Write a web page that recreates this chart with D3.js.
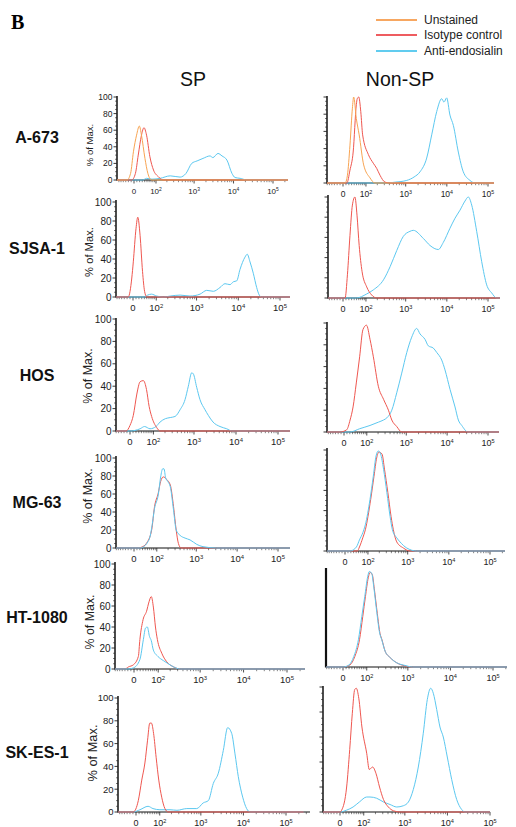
<!DOCTYPE html>
<html><head><meta charset="utf-8">
<script src="https://cdn.jsdelivr.net/npm/d3@7"></script>
<style>body{margin:0;background:#fff} svg{display:block}</style>
</head><body><svg id="c" width="516" height="827"></svg>
<script>
// ---------------- DATA ----------------
const rowLabels = ["A-673","SJSA-1","HOS","MG-63","HT-1080","SK-ES-1"];
const columnTitles = ["SP","Non-SP"];
const seriesNames = ["Unstained","Isotype control","Anti-endosialin"];
const yTickValues = [0,20,40,60,80,100];
const xTickValues = [0,100,1000,10000,100000];
const xTickExponents = ["","2","3","4","5"];

// each curve: [fluorescence intensity, % of max]
const a673_sp_unstained = [[-300,0],[-25,0],[-12,8],[-2,34],[9,54],[19,65],[27,54],[41,26],[54,8],[73,0],[260000,0]];
const a673_sp_isotype = [[-300,0],[-8,0],[5,8],[15,30],[27,54],[37,63],[48,54],[64,28],[84,12],[117,4],[160,0],[260000,0]];
const a673_sp_endo = [[-300,0],[32,0],[48,2],[75,1],[131,2],[245,5],[440,3.5],[624,8],[870,20],[1190,23],[1680,26],[2530,29],[3000,27],[4040,32],[5100,29],[6800,24],[9100,8],[10900,3],[14700,2],[22000,0],[260000,0]];
const a673_nsp_unstained = [[-300,0],[7,0],[15,9],[24,44],[33,87],[38,100],[49,75],[62,56],[86,21],[129,6],[174,0],[260000,0]];
const a673_nsp_isotype = [[-300,0],[13,0],[24,15],[36,36],[49,91],[53,98],[60,100],[70,83],[80,56],[117,33],[158,23],[193,17],[234,9],[312,1],[410,0],[260000,0]];
const a673_nsp_endo = [[-300,0],[346,0],[555,1],[1060,3],[1600,7],[2230,13],[3240,29],[4290,56],[5670,83],[7500,98],[8530,94],[9910,99],[11900,79],[14400,67],[19000,36],[25100,13],[36500,3],[48300,0],[260000,0]];

const sjsa_sp_isotype = [[-300,0],[-16,0],[-4,20],[1,37],[10,72],[16,84],[24,65],[33,27],[41,6],[50,0],[260000,0]];
const sjsa_sp_endo = [[-300,0],[40,0],[54,2],[72,3],[103,1],[154,0],[231,1],[401,2],[697,1],[1210,3],[1750,7],[2530,6],[3650,10],[4810,14],[6340,13],[7600,16],[9180,17],[11000,29],[14500,42],[16400,45],[19100,37],[22900,25],[27600,10],[31900,2],[36400,0],[260000,0]];
const sjsa_nsp_isotype = [[-300,0],[7,0],[15,23],[24,62],[33,92],[43,100],[52,82],[62,52],[77,26],[105,11],[143,3],[193,0],[260000,0]];
const sjsa_nsp_endo = [[-300,0],[49,0],[105,4],[158,8],[286,18],[416,31],[605,47],[875,61],[1270,66],[1530,67],[2680,59],[3900,52],[6200,48],[8200,55],[11900,69],[15800,79],[20900,87],[27600,96],[33200,100],[40200,92],[53100,66],[70300,36],[92900,13],[123000,5],[163000,0],[260000,0]];

const hos_sp_isotype = [[-300,0],[-13,0],[0,5],[11,14],[23,33],[35,44],[48,45],[62,37],[75,22],[89,13],[123,3],[150,0],[260000,0]];
const hos_sp_endo = [[-300,0],[0,0],[35,2],[53,4],[80,2],[118,4],[150,8],[204,11],[269,12],[353,13],[465,19],[611,28],[733,40],[883,52],[964,51],[1160,39],[1390,28],[1830,19],[2190,14],[2840,8],[4160,4],[6010,2],[8040,0],[260000,0]];
const hos_nsp_isotype = [[-300,0],[-14,0],[9,2],[21,11],[32,23],[45,45],[60,69],[77,94],[98,98],[123,85],[151,69],[203,42],[275,30],[364,20],[441,11],[584,5],[774,0],[260000,0]];
const hos_nsp_endo = [[-300,0],[21,0],[60,3],[123,6],[203,9],[275,11],[333,13],[441,20],[584,36],[774,54],[1030,73],[1360,87],[1800,95],[2170,90],[2880,85],[3470,79],[4590,77],[5560,73],[7370,66],[8870,57],[11800,39],[15600,23],[18800,11],[22800,6],[32400,0],[260000,0]];

const mg63_sp_isotype = [[-300,0],[15,0],[27,1],[45,5],[70,20],[86,46],[110,61],[128,74],[151,79],[185,76],[228,70],[275,46],[320,20],[364,5],[424,0],[260000,0]];
const mg63_sp_endo = [[-300,0],[21,0],[32,1],[52,7],[60,11],[70,22],[86,44],[110,59],[128,79],[145,88],[157,88],[173,78],[196,74],[228,68],[275,42],[320,20],[401,14],[531,11],[703,9],[1030,4],[1460,1.5],[3170,0],[260000,0]];
const mg63_nsp_isotype = [[-300,0],[45,0],[54,4],[70,13],[84,21],[119,51],[146,74],[171,92],[196,98],[234,96],[270,81],[327,58],[393,34],[447,21],[541,9],[782,3],[1140,0],[260000,0]];
const mg63_nsp_endo = [[-300,0],[17,0],[41,4],[54,11],[70,18],[84,26],[114,51],[140,74],[165,94],[189,99],[216,96],[256,81],[309,58],[372,34],[423,21],[541,13],[650,9],[946,3],[1660,0],[260000,0]];

const ht1080_sp_isotype = [[-300,0],[-30,0],[-18,2],[-2,4],[14,12],[19,28],[30,47],[43,55],[53,64],[63,69],[73,59],[84,40],[95,28],[124,15],[164,7],[241,2],[344,0],[260000,0]];
const ht1080_sp_endo = [[-300,0],[-20,0],[-2,1],[19,9],[31,28],[39,39],[46,40],[55,31],[63,27],[73,18],[98,12],[136,8],[180,5],[241,2],[344,0],[260000,0]];
const ht1080_nsp_isotype = [[-300,0],[1,0],[23,2],[41,10],[61,26],[77,48],[92,67],[110,85],[122,90],[140,88],[157,75],[187,51],[218,32],[243,26],[290,15],[381,9],[547,4],[857,1],[1120,0],[260000,0]];
const ht1080_nsp_endo = [[-300,0],[0,0],[20,2],[37,10],[56,26],[72,48],[88,67],[106,86],[118,91],[136,89],[153,76],[182,52],[212,33],[240,26],[290,15],[381,9],[547,4],[857,1.5],[1300,0],[260000,0]];

const skes_sp_isotype = [[-300,0],[-9,0],[7.5,10],[19,28],[30,43],[40,63],[49,78],[56,78],[66,69],[79,48],[94,28],[113,13],[137,3],[167,0],[260000,0]];
const skes_sp_endo = [[-300,0],[-9,0],[13,2],[42,5],[63,3],[101,2],[184,2],[271,1.5],[466,3],[800,3],[1140,8],[1500,10],[1960,25],[2570,34],[3370,54],[4270,74],[5300,69],[6340,51],[7580,31],[9620,13],[11900,3],[14300,0],[260000,0]];
const skes_nsp_isotype = [[-300,0],[0,0],[5.5,1.5],[22,20],[33,50],[43,79],[53,98],[60,99],[72,91],[89,68],[120,47],[140,34],[170,36],[205,31],[251,20],[312,10],[408,4],[536,1],[770,0],[260000,0]];
const skes_nsp_endo = [[-300,0],[0,0],[22,1.5],[46,4],[75,8],[120,12],[146,12],[214,11],[312,8],[448,6],[644,4],[920,5],[1210,8],[1580,18],[2070,36],[2710,63],[3370,90],[4050,99],[4660,95],[5600,82],[6680,68],[8000,60],[9930,44],[12600,26],[16500,10],[21600,2],[25900,0],[260000,0]];

// panel contents: [series index, data]
const panelCurves = [
  [[2,a673_sp_endo],[1,a673_sp_isotype],[0,a673_sp_unstained]],
  [[2,a673_nsp_endo],[1,a673_nsp_isotype],[0,a673_nsp_unstained]],
  [[2,sjsa_sp_endo],[1,sjsa_sp_isotype]],
  [[2,sjsa_nsp_endo],[1,sjsa_nsp_isotype]],
  [[2,hos_sp_endo],[1,hos_sp_isotype]],
  [[2,hos_nsp_endo],[1,hos_nsp_isotype]],
  [[1,mg63_sp_isotype],[2,mg63_sp_endo]],
  [[1,mg63_nsp_isotype],[2,mg63_nsp_endo]],
  [[1,ht1080_sp_isotype],[2,ht1080_sp_endo]],
  [[1,ht1080_nsp_isotype],[2,ht1080_nsp_endo]],
  [[2,skes_sp_endo],[1,skes_sp_isotype]],
  [[2,skes_nsp_endo],[1,skes_nsp_isotype]]
];

// ---------------- LAYOUT / STYLE ----------------
const plotColors = ["#F8A452","#EF5750","#5CC8F0"];
const legendColors = ["#F58A2C","#E8262B","#2DBBEA"];
const layout = [
  {left:117,right:288,x0:134,x5:273,yZero:180,y100:97,top:96,fs:8,labels:true,ticks:true},
  {left:327,right:494,x0:343,x5:488,yZero:183,y100:97,top:96,fs:8.5,labels:false,ticks:true},
  {left:116,right:290,x0:133,x5:280,yZero:297,y100:202,top:200,fs:9.5,labels:true,ticks:true},
  {left:328,right:500,x0:343,x5:488,yZero:298,y100:197,top:195,fs:9,labels:false,ticks:true},
  {left:116,right:290,x0:130,x5:278,yZero:431,y100:319,top:318,fs:9.5,labels:true,ticks:true},
  {left:327,right:499,x0:344,x5:488,yZero:432,y100:323,top:322,fs:9,labels:false,ticks:true},
  {left:116,right:290,x0:134,x5:278,yZero:548,y100:458,top:456,fs:9.5,labels:true,ticks:true},
  {left:327,right:505,x0:345,x5:490,yZero:551,y100:450,top:448,fs:9,labels:false,ticks:true},
  {left:115,right:305,x0:134,x5:287,yZero:669,y100:564,top:562,fs:9.5,labels:true,ticks:true},
  {left:326,right:507,x0:343,x5:493,yZero:667,y100:562,top:568,fs:9,labels:false,ticks:false},
  {left:118,right:310,x0:136,x5:286,yZero:812,y100:698,top:696,fs:9,labels:true,ticks:true},
  {left:323,right:490,x0:340,x5:490,yZero:812,y100:687,top:686,fs:9,labels:false,ticks:true}
];
const rowLabelY = [137,248,375,502,617,752];
const maxLabel = [[90,145,9.5],[89,252,11.2],[88,376,12.5],[88,496,12.5],[90,622,12.4],[93,753,12.8]];

const svg = d3.select("#c");
const FONT = "Liberation Sans, Arial, Helvetica, sans-serif";

// header
svg.append("text").attr("x",11).attr("y",29).text("B")
  .attr("font-family","Liberation Serif, Times New Roman, serif").attr("font-weight","bold").attr("font-size",20);
seriesNames.forEach((s,i)=>{
  const yy = [20,35,51][i];
  svg.append("line").attr("x1",376).attr("x2",417).attr("y1",yy).attr("y2",yy)
    .attr("stroke",legendColors[i]).attr("stroke-width",1.6);
  svg.append("text").attr("x",424).attr("y",yy+4).text(s)
    .attr("font-family",FONT).attr("font-size",12).attr("fill","#222");
});
columnTitles.forEach((t,i)=>{
  svg.append("text").attr("x",[193,400][i]).attr("y",86).attr("text-anchor","middle")
    .text(t).attr("font-family",FONT).attr("font-size",19.5).attr("fill","#111");
});
rowLabels.forEach((r,i)=>{
  svg.append("text").attr("x",37).attr("y",rowLabelY[i]+6).attr("text-anchor","middle")
    .text(r).attr("font-family",FONT).attr("font-weight","bold").attr("font-size",16).attr("fill","#111");
  const m = maxLabel[i];
  svg.append("text").attr("transform",`translate(${m[0]},${m[1]}) rotate(-90)`)
    .attr("text-anchor","middle").attr("dy","0.35em").text("% of Max.")
    .attr("font-family",FONT).attr("font-size",m[2]).attr("fill","#222");
});

const T = v => Math.asinh(v/60)/Math.LN10;
const minorVals = [];
for (let k=1;k<=9;k++) minorVals.push(-10*k, 10*k);
[100,1000,10000,100000].forEach(d=>{ for(let k=2;k<=9;k++) minorVals.push(k*d); });

layout.forEach((g,pi)=>{
  const lin = d3.scaleLinear().domain([T(0),T(1e5)]).range([g.x0,g.x5]);
  const d0 = lin.invert(g.left), d1 = lin.invert(g.right);
  lin.domain([d0,d1]).range([g.left,g.right]).clamp(true);
  const x = v => lin(T(v));
  const y = d3.scaleLinear().domain([0,100]).range([g.yZero,g.y100]);
  const gp = svg.append("g");

  // x axis
  gp.append("line").attr("x1",g.left).attr("x2",g.right).attr("y1",g.yZero).attr("y2",g.yZero)
    .attr("stroke","#111").attr("stroke-width",1.1);
  minorVals.forEach(v=>{
    const px = lin(T(v));
    if (T(v) < d0 || T(v) > d1) return;
    gp.append("line").attr("x1",px).attr("x2",px).attr("y1",g.yZero).attr("y2",g.yZero+2.2)
      .attr("stroke","#333").attr("stroke-width",0.6);
  });
  xTickValues.forEach((v,i)=>{
    const px = x(v);
    gp.append("line").attr("x1",px).attr("x2",px).attr("y1",g.yZero).attr("y2",g.yZero+3.5)
      .attr("stroke","#222").attr("stroke-width",0.8);
    const t = gp.append("text").attr("x",px).attr("y",g.yZero+11+g.fs*0.36).attr("text-anchor","middle")
      .attr("font-family",FONT).attr("font-size",g.fs).attr("fill","#222");
    if (xTickExponents[i]==="") t.text("0");
    else { t.text("10"); t.append("tspan").attr("dy",-g.fs*0.35).attr("font-size",g.fs*0.62).text(xTickExponents[i]); }
  });

  // y axis
  gp.append("line").attr("x1",g.left).attr("x2",g.left).attr("y1",g.top).attr("y2",g.yZero+0.5)
    .attr("stroke","#111").attr("stroke-width",g.ticks?1.5:2.2);
  if (g.ticks){
    for (let v=0; v<=100; v+=5){
      const major = v%20===0;
      gp.append("line").attr("x1",g.left).attr("x2",g.left-(major?3.5:2)).attr("y1",y(v)).attr("y2",y(v))
        .attr("stroke","#222").attr("stroke-width",major?0.9:0.6);
    }
  }
  if (g.labels){
    yTickValues.forEach(v=>{
      gp.append("text").attr("x",g.left-4.5).attr("y",y(v)).attr("dy","0.35em").attr("text-anchor","end")
        .text(v).attr("font-family",FONT).attr("font-size",g.fs+0.5).attr("fill","#222");
    });
  }

  // curves
  const line = d3.line().x(d=>x(d[0])).y(d=>y(d[1])).curve(d3.curveMonotoneX);
  panelCurves[pi].forEach(([si,data])=>{
    gp.append("path").datum(data).attr("d",line).attr("fill","none")
      .attr("stroke",plotColors[si]).attr("stroke-width",1).attr("stroke-linejoin","round");
  });
});
</script></body></html>
